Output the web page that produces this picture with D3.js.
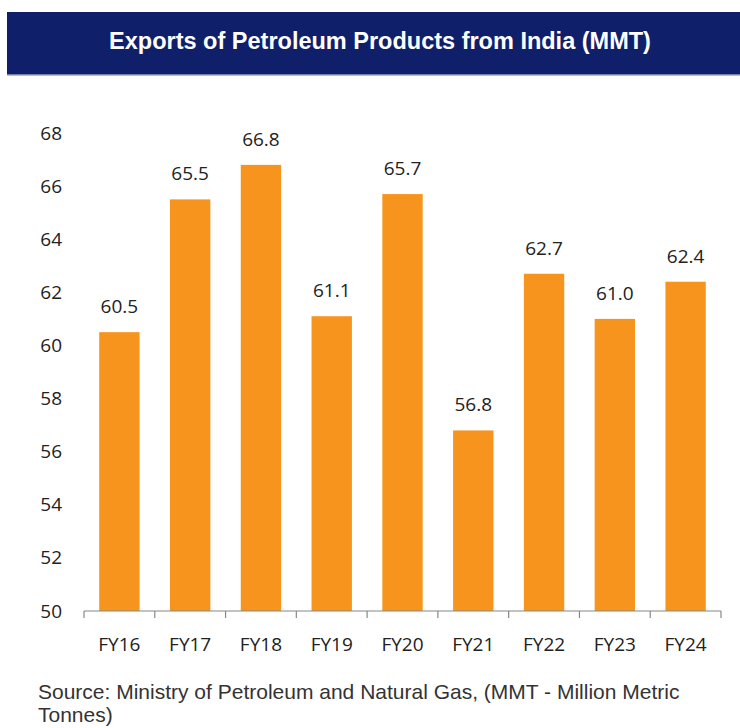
<!DOCTYPE html>
<html>
<head>
<meta charset="utf-8">
<script src="https://cdn.jsdelivr.net/npm/d3@7"></script>
<style>
  body { margin: 0; background: #fff; }
  svg text { font-family: "Open Sans", sans-serif; }
</style>
</head>
<body>
<div id="chart"></div>
<script>
const years = ['FY16', 'FY17', 'FY18', 'FY19', 'FY20', 'FY21', 'FY22', 'FY23', 'FY24'];
const exportsMmt = [60.5, 65.5, 66.8, 61.1, 65.7, 56.8, 62.7, 61.0, 62.4];
const yTicks = [50, 52, 54, 56, 58, 60, 62, 64, 66, 68];
const titleText = 'Exports of Petroleum Products from India (MMT)';
const sourceLines = ['Source: Ministry of Petroleum and Natural Gas, (MMT - Million Metric', 'Tonnes)'];

const W = 740, H = 728;
const margin = {top: 133, right: 19, bottom: 117, left: 84};
const width = W - margin.left - margin.right;
const height = H - margin.top - margin.bottom;

const svg = d3.select('#chart').append('svg')
  .attr('width', W)
  .attr('height', H);

// title banner
svg.append('rect')
  .attr('x', 7).attr('y', 12)
  .attr('width', W - 7).attr('height', 62)
  .attr('fill', '#0f1f6a');
svg.append('rect')
  .attr('x', 7).attr('y', 74)
  .attr('width', W - 7).attr('height', 1.5)
  .attr('fill', '#6f7fb0');
svg.append('text')
  .attr('x', 380).attr('y', 49)
  .attr('text-anchor', 'middle')
  .style('font-family', '"Liberation Sans", Arial, sans-serif')
  .style('font-weight', 'bold')
  .style('font-size', '23.5px')
  .attr('fill', '#fff')
  .text(titleText);

const g = svg.append('g')
  .attr('transform', `translate(${margin.left},${margin.top})`);

const x = d3.scaleBand()
  .domain(years)
  .range([0, width])
  .paddingInner(0.43)
  .paddingOuter(0.215);

const y = d3.scaleLinear()
  .domain([50, 68])
  .range([height, 0]);

// y axis labels only
const yAxis = g.append('g')
  .call(d3.axisLeft(y).tickValues(yTicks).tickSize(0).tickPadding(22));
yAxis.select('.domain').remove();
yAxis.selectAll('text')
  .style('font-size', '19px')
  .attr('fill', '#222');

// bars
g.selectAll('.bar')
  .data(exportsMmt)
  .enter().append('rect')
  .attr('class', 'bar')
  .attr('x', (d, i) => x(years[i]))
  .attr('width', x.bandwidth())
  .attr('y', d => y(d))
  .attr('height', d => height - y(d))
  .attr('fill', '#f7941d');

// value labels
g.selectAll('.val')
  .data(exportsMmt)
  .enter().append('text')
  .attr('class', 'val')
  .attr('x', (d, i) => x(years[i]) + x.bandwidth() / 2)
  .attr('y', d => y(d) - 19)
  .attr('text-anchor', 'middle')
  .style('font-size', '19px')
  .attr('fill', '#222')
  .text(d => d.toFixed(1));

// x axis with ticks at band edges
const xAxis = g.append('g')
  .attr('transform', `translate(0,${height})`);
xAxis.append('line')
  .attr('x1', 0).attr('x2', width)
  .attr('stroke', '#888').attr('stroke-width', 1.2);
const edges = d3.range(years.length + 1).map(i => i * x.step());
xAxis.selectAll('.edge')
  .data(edges)
  .enter().append('line')
  .attr('class', 'edge')
  .attr('x1', d => d).attr('x2', d => d)
  .attr('y1', 0).attr('y2', 7)
  .attr('stroke', '#888').attr('stroke-width', 1.2);
xAxis.selectAll('.lbl')
  .data(years)
  .enter().append('text')
  .attr('class', 'lbl')
  .attr('x', d => x(d) + x.bandwidth() / 2)
  .attr('y', 40)
  .attr('text-anchor', 'middle')
  .style('font-size', '19px')
  .attr('fill', '#222')
  .text(d => d);

// source note
svg.append('g').selectAll('text')
  .data(sourceLines)
  .enter().append('text')
  .attr('x', 38)
  .attr('y', (d, i) => 699 + i * 23)
  .style('font-family', '"Liberation Sans", Arial, sans-serif')
  .style('font-size', '21px')
  .attr('fill', '#333')
  .text(d => d);
</script>
</body>
</html>
